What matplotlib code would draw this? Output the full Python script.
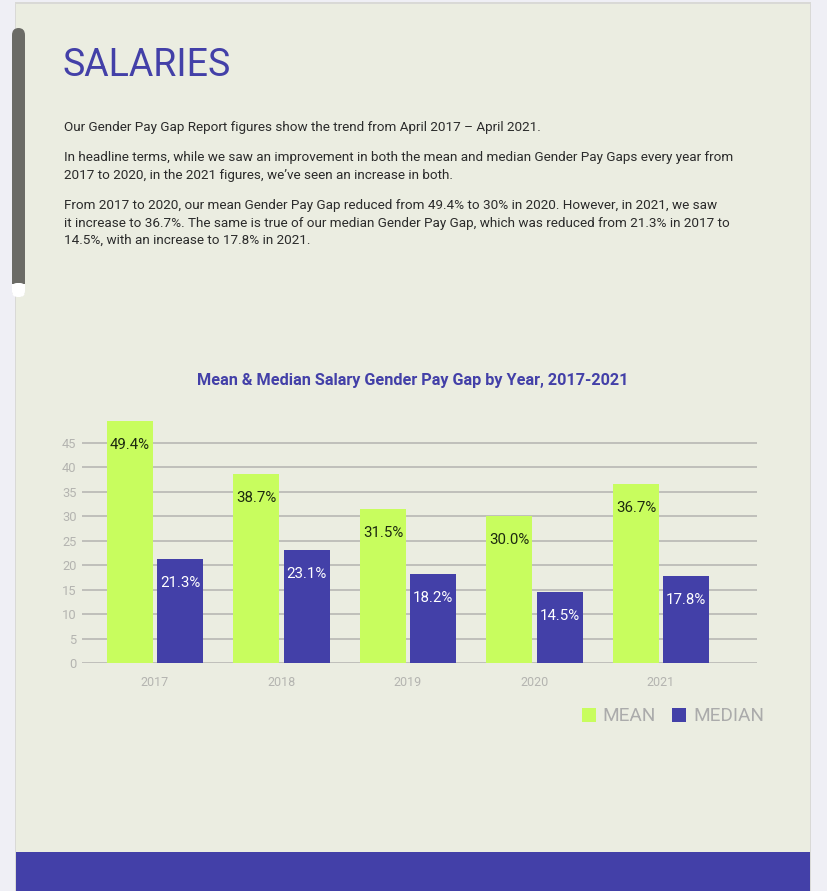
import matplotlib
matplotlib.use("Agg")
import matplotlib.pyplot as plt
from matplotlib.patches import Rectangle, FancyBboxPatch
import numpy as np

# ---- data ----
years = ["2017", "2018", "2019", "2020", "2021"]
mean_gap = [49.4, 38.7, 31.5, 30.0, 36.7]
median_gap = [21.3, 23.1, 18.2, 14.5, 17.8]
mean_labels = ["49.4%", "38.7%", "31.5%", "30.0%", "36.7%"]
median_labels = ["21.3%", "23.1%", "18.2%", "14.5%", "17.8%"]
yticks = [0, 5, 10, 15, 20, 25, 30, 35, 40, 45]
legend_labels = ["MEAN", "MEDIAN"]

title_text = "SALARIES"
chart_title = "Mean & Median Salary Gender Pay Gap by Year, 2017-2021"
para1 = "Our Gender Pay Gap Report figures show the trend from April 2017 \u2013 April 2021."
para2 = ["In headline terms, while we saw an improvement in both the mean and median Gender Pay Gaps every year from",
         "2017 to 2020, in the 2021 figures, we\u2019ve seen an increase in both."]
para3 = ["From 2017 to 2020, our mean Gender Pay Gap reduced from 49.4% to 30% in 2020. However, in 2021, we saw",
         "it increase to 36.7%. The same is true of our median Gender Pay Gap, which was reduced from 21.3% in 2017 to",
         "14.5%, with an increase to 17.8% in 2021."]

# ---- style ----
W, H = 828, 891
OUTER = "#efeff5"
PANEL = "#ebede1"
PURPLE = "#4340a8"
LIME = "#c8fd5e"
GRID = "#bcbcb8"
TICK = "#b4b4b0"
TEXT = "#2b2b2b"

FONT = ["Roboto", "DejaVu Sans"]

fig = plt.figure(figsize=(W / 100, H / 100), dpi=100)
fig.patch.set_facecolor(OUTER)

def px(x, y):
    return x / W, 1 - y / H

# page panel
fig.patches.append(Rectangle(px(15, 891), 796 / W, 889 / H, transform=fig.transFigure,
                             facecolor="#d9d9d6", edgecolor="none", zorder=-5))
fig.patches.append(Rectangle(px(16, 891), 794 / W, 887 / H, transform=fig.transFigure,
                             facecolor=PANEL, edgecolor="none", zorder=-4))
# bottom band
fig.patches.append(Rectangle(px(16, 891), 794 / W, 39 / H, transform=fig.transFigure,
                             facecolor=PURPLE, edgecolor="none", zorder=-3))
# scrollbar
fig.patches.append(FancyBboxPatch(px(12, 297), 13 / W, 269 / H, transform=fig.transFigure,
                                  boxstyle="round,pad=0,rounding_size=0.008",
                                  facecolor="#6b6b66", edgecolor="none", zorder=-2))
fig.patches.append(FancyBboxPatch(px(12, 297), 13 / W, 14 / H, transform=fig.transFigure,
                                  boxstyle="round,pad=0,rounding_size=0.006",
                                  facecolor="white", edgecolor="none", zorder=-1))
fig.patches.append(Rectangle(px(12, 290), 13 / W, 6 / H, transform=fig.transFigure,
                             facecolor="white", edgecolor="none", zorder=-1))

# texts
fig.text(*px(63, 66), title_text, color=PURPLE, fontsize=27, family=FONT,
         va="center", ha="left")
BODY = 9.7
fig.text(*px(64, 127), para1, color=TEXT, fontsize=BODY, family=FONT, va="center")
for i, line in enumerate(para2):
    fig.text(*px(64, 158 + 17 * i), line, color=TEXT, fontsize=BODY, family=FONT, va="center")
for i, line in enumerate(para3):
    fig.text(*px(64, 206 + 17 * i), line, color=TEXT, fontsize=BODY, family=FONT, va="center")

fig.text(*px(413, 380), chart_title, color=PURPLE, fontsize=11.7, fontweight="bold",
         family=FONT, ha="center", va="center")

# ---- chart ----
ppu = 220 / 45.0
top_px = 663 - 50 * ppu
ax = fig.add_axes([82 / W, 1 - 663 / H, 675 / W, (663 - top_px) / H])
ax.set_zorder(5)
ax.set_facecolor("none")
x = np.arange(len(years))
bw = 0.364
off = 0.198
ax.set_xlim(-0.577, 4.759)
ax.set_ylim(0, 50)
ax.set_yticks(yticks)
ax.grid(axis="y", color=GRID, linewidth=1.3, zorder=0)
ax.set_axisbelow(True)
for s in ax.spines.values():
    s.set_visible(False)
ax.tick_params(axis="y", length=0, pad=4, labelcolor=TICK, labelsize=9.3)
ax.tick_params(axis="x", length=0, pad=9, labelcolor=TICK, labelsize=9)
ax.set_xticks(x)
ax.set_xticklabels(years)
for lab in ax.get_yticklabels() + ax.get_xticklabels():
    lab.set_family(FONT)

ax.bar(x - off, mean_gap, width=bw, color=LIME, zorder=2)
ax.bar(x + off, median_gap, width=bw, color=PURPLE, zorder=2)

lab_drop = 24 / ppu
for i in range(len(years)):
    ax.text(x[i] - off, mean_gap[i] - lab_drop, mean_labels[i], ha="center", va="center",
            color="#1d2a10", fontsize=10.8, family=FONT, zorder=3)
    ax.text(x[i] + off, median_gap[i] - lab_drop, median_labels[i], ha="center", va="center",
            color="white", fontsize=10.8, family=FONT, zorder=3)

# legend
fig.patches.append(Rectangle(px(582, 722), 14 / W, 14 / H, transform=fig.transFigure,
                             facecolor=LIME, edgecolor="none", zorder=3))
fig.text(*px(602, 716), legend_labels[0], color="#ababab", fontsize=13.7, family=FONT, va="center")
fig.patches.append(Rectangle(px(672, 722), 14 / W, 14 / H, transform=fig.transFigure,
                             facecolor=PURPLE, edgecolor="none", zorder=3))
fig.text(*px(693, 716), legend_labels[1], color="#ababab", fontsize=13.7, family=FONT, va="center")

fig.savefig("out.png", dpi=100, facecolor=fig.get_facecolor())
